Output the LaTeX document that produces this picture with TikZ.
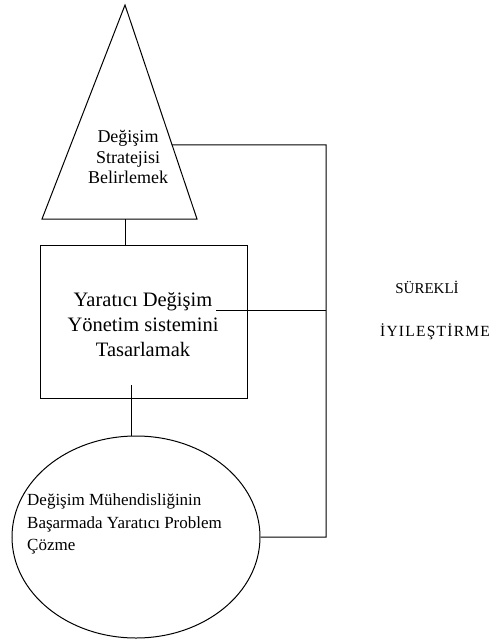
\documentclass[tikz,border=0pt]{standalone}
\usepackage{fontspec}
\setmainfont{Liberation Serif}
\usetikzlibrary{shapes.geometric,calc}
\begin{document}
\begin{tikzpicture}[x=1pt,y=1pt,
  ln/.style={line width=1pt,black},
  txt/.style={inner sep=0pt,align=center},
]
\useasboundingbox (0,0) rectangle (502,-639);
% triangle
\coordinate (apex) at (125,-5);
\coordinate (bl) at (42,-219);
\coordinate (br) at (197,-219);
\draw[ln,line join=miter] (apex) -- (br) -- (bl) -- cycle;
\coordinate (tb) at (125,-219);
\coordinate (tr) at ($(apex)!0.654!(br)$);
\node[txt,font=\fontsize{18}{20.5}\selectfont] (tt) at (128,-157) {Değişim\\ Stratejisi\\Belirlemek};
% box
\node[ln,draw,rectangle,minimum width=207pt,minimum height=153pt,inner sep=0pt] (box) at (143.5,-321.5) {};
\node[txt,font=\fontsize{20.5}{25}\selectfont] (bt) at (143,-325) {Yaratıcı Değişim\\Yönetim sistemini\\Tasarlamak};
\coordinate (bline) at (216,-310);
\coordinate (bdown) at (131,-385);
% ellipse
\node[ln,draw,ellipse,minimum width=248pt,minimum height=202pt,inner sep=0pt] (ell) at (136,-537) {};
\node[txt,align=left,anchor=west,font=\fontsize{17}{22.5}\selectfont] (et) at (27,-524) {Değişim Mühendisliğinin\\Başarmada Yaratıcı Problem\\Çözme};
% right rail
\coordinate (r1) at (326,-145);
\coordinate (r2) at (326,-310);
\coordinate (r3) at (326,-537);
\draw[ln] (tr) -- (r1) -- (r3) -- (ell.east);
\draw[ln] (bline) -- (r2);
\draw[ln] (tb) -- (tb |- box.north);
\draw[ln] (bdown) -- (bdown |- ell.north);
% labels
\node[txt,font=\fontsize{15}{17}\selectfont] (s1) at (427,-287) {SÜREKLİ};
\node[txt,font=\fontsize{15.5}{17}\selectfont\addfontfeature{LetterSpace=8}] (s2) at (435,-332) {İYILEŞTİRME};
\end{tikzpicture}
\end{document}
